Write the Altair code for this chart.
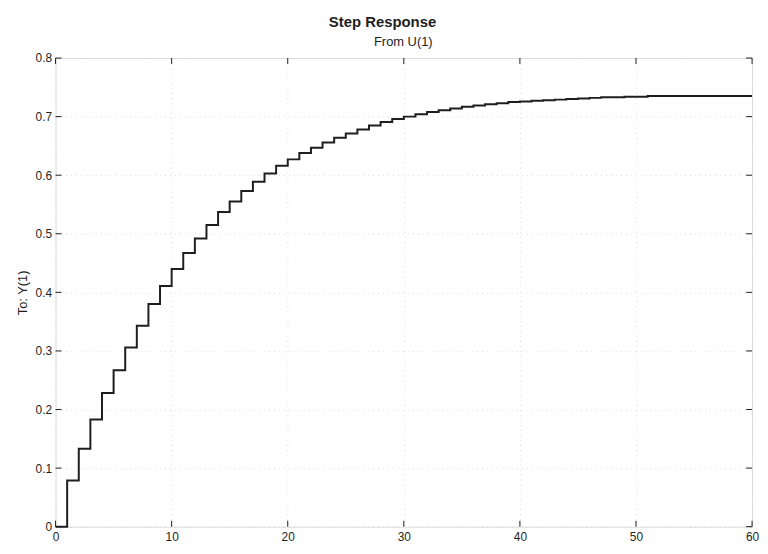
import altair as alt
import pandas as pd

# ---- data ----
time = list(range(0, 61))
response = [
    0.000, 0.079, 0.133, 0.183, 0.228, 0.267, 0.306, 0.343, 0.380, 0.411,
    0.440, 0.467, 0.492, 0.515, 0.537, 0.555, 0.573, 0.589, 0.603, 0.616,
    0.627, 0.638, 0.647, 0.656, 0.664, 0.671, 0.678, 0.685, 0.691, 0.696,
    0.700, 0.704, 0.708, 0.711, 0.714, 0.717, 0.719, 0.721, 0.723, 0.725,
    0.726, 0.727, 0.728, 0.729, 0.730, 0.731, 0.732, 0.733, 0.733, 0.734,
    0.734, 0.735, 0.735, 0.735, 0.735, 0.735, 0.735, 0.735, 0.735, 0.735,
    0.735,
]
x_ticks = [0, 10, 20, 30, 40, 50, 60]
y_ticks = [0, 0.1, 0.2, 0.3, 0.4, 0.5, 0.6, 0.7, 0.8]
title_text = ["Step Response"]
subtitle_text = ["From U(1)"]
y_title = "To: Y(1)"

W, H = 703, 473
FONT = "Liberation Sans, Arial, Helvetica, sans-serif"
INK = "#1e1e1e"

df = pd.DataFrame({"t": time, "y": response})
xdf = pd.DataFrame({"v": x_ticks})
ydf = pd.DataFrame({"v": y_ticks})

xscale = alt.Scale(domain=[0, 60], nice=False, zero=False)
yscale = alt.Scale(domain=[0, 0.8], nice=False)

x_axis = alt.Axis(values=x_ticks, title=None, grid=True, format="~g",
                  tickSize=0, labelPadding=5, labelFontSize=12,
                  labelFont=FONT, labelColor=INK, domain=False,
                  gridColor="#c4c4c4", gridDash=[1, 4], gridOpacity=0.6,
                  labelFlush=False)
y_axis = alt.Axis(values=y_ticks, title=y_title, grid=True, format="~g",
                  tickSize=0, labelPadding=4, labelFontSize=12,
                  labelFont=FONT, labelColor=INK, domain=False,
                  titleFont=FONT, titleFontSize=13, titleFontWeight="normal",
                  titleColor=INK, titlePadding=6,
                  gridColor="#c4c4c4", gridDash=[1, 4], gridOpacity=0.6)

line = alt.Chart(df).mark_line(
    interpolate="step-after", color=INK, strokeWidth=2
).encode(
    x=alt.X("t:Q", scale=xscale, axis=x_axis),
    y=alt.Y("y:Q", scale=yscale, axis=y_axis),
)

tick_len = 6
left_ticks = alt.Chart(ydf).mark_rule(color=INK, strokeWidth=1).encode(
    y=alt.Y("v:Q", scale=yscale, title=y_title),
    x=alt.value(0), x2=alt.value(tick_len))
right_ticks = alt.Chart(ydf).mark_rule(color=INK, strokeWidth=1).encode(
    y=alt.Y("v:Q", scale=yscale, title=y_title),
    x=alt.value(W - tick_len), x2=alt.value(W))
bottom_ticks = alt.Chart(xdf).mark_rule(color=INK, strokeWidth=1).encode(
    x=alt.X("v:Q", scale=xscale, title=None),
    y=alt.value(H), y2=alt.value(H - tick_len))
top_ticks = alt.Chart(xdf).mark_rule(color=INK, strokeWidth=1).encode(
    x=alt.X("v:Q", scale=xscale, title=None),
    y=alt.value(0), y2=alt.value(tick_len))

title = alt.Chart(pd.DataFrame({"label": title_text})).mark_text(
    font=FONT, fontSize=15, fontWeight="bold", color=INK, align="center",
    baseline="alphabetic"
).encode(text="label:N", x=alt.value(330), y=alt.value(-31))

subtitle = alt.Chart(pd.DataFrame({"label": subtitle_text})).mark_text(
    font=FONT, fontSize=13, fontWeight="normal", color=INK, align="center",
    baseline="alphabetic"
).encode(text="label:N", x=alt.value(351), y=alt.value(-12))

chart = alt.layer(
    line, left_ticks, right_ticks, bottom_ticks, top_ticks, title, subtitle
).properties(
    width=W, height=H,
    autosize=alt.AutoSizeParams(type="none"),
    padding={"left": 48, "top": 48, "right": 8, "bottom": 17},
).configure_view(
    stroke=INK, strokeWidth=1.2
).configure(
    background="white"
)

chart.save("out.html", embed_options={"renderer": "svg", "actions": False})
